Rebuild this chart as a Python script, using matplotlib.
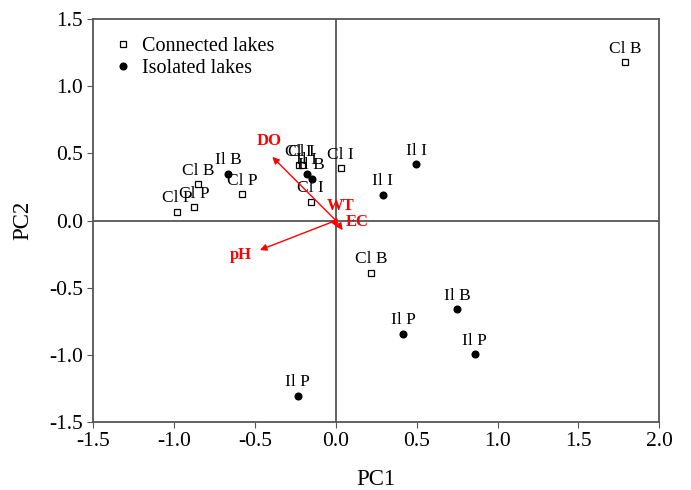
import matplotlib.pyplot as plt

plt.rcParams["font.family"] = ["Liberation Serif", "DejaVu Serif"]
plt.rcParams["axes.unicode_minus"] = False

# connected lakes (open squares)
con_x = [1.79, 0.217, 0.03, -0.23, -0.21, -0.156, -0.58, -0.85, -0.876, -0.98]
con_y = [1.18, -0.39, 0.39, 0.41, 0.41, 0.14, 0.196, 0.27, 0.097, 0.064]
con_lab = ["Cl B", "Cl B", "Cl I", "Cl I", "Cl I", "Cl I", "Cl P", "Cl B", "Cl P", "Cl P"]

# isolated lakes (filled dots)
iso_x = [-0.665, -0.18, -0.15, 0.497, 0.29, 0.75, 0.417, 0.86, -0.236]
iso_y = [0.35, 0.35, 0.31, 0.42, 0.19, -0.66, -0.845, -0.995, -1.307]
iso_lab = ["Il B", "Il I", "Il B", "Il I", "Il I", "Il B", "Il P", "Il P", "Il P"]

# environmental vectors
env_names = ["DO", "pH", "EC", "WT"]
env_x = [-0.393, -0.47, 0.042, 0.012]
env_y = [0.474, -0.22, -0.072, 0.02]
env_lab_x = [-0.41, -0.59, 0.13, 0.03]
env_lab_y = [0.59, -0.26, -0.01, 0.11]

fig = plt.figure(figsize=(6.91, 4.90), dpi=100)
ax = fig.add_axes([0.135, 0.139, 0.819, 0.822])

gray = "#555555"
ax.axhline(0, color=gray, lw=1.3, zorder=1)
ax.axvline(0, color=gray, lw=1.3, zorder=1)

ax.plot(con_x, con_y, "s", mfc="white", mec="black", ms=5, mew=0.9,
        ls="none", label="Connected lakes", zorder=3)
ax.plot(iso_x, iso_y, "o", color="black", ms=4.8, ls="none",
        label="Isolated lakes", zorder=3)

for x, y, t in zip(con_x + iso_x, con_y + iso_y, con_lab + iso_lab):
    ax.annotate(t, (x, y), xytext=(0, 4), textcoords="offset points",
                ha="center", va="bottom", fontsize=12.5, zorder=4)

for name, x, y, lx, ly in zip(env_names, env_x, env_y, env_lab_x, env_lab_y):
    ax.annotate("", xy=(x, y), xytext=(0, 0),
                arrowprops=dict(arrowstyle="-|>", color="red", lw=1,
                                mutation_scale=10, shrinkA=0, shrinkB=0),
                zorder=5)
    ax.text(lx, ly, name, color="red", fontweight="bold", fontsize=12,
            ha="center", va="center", zorder=5)

ax.set_xlim(-1.5, 2.0)
ax.set_ylim(-1.5, 1.5)
ax.set_xticks([-1.5, -1.0, -0.5, 0.0, 0.5, 1.0, 1.5, 2.0])
ax.set_yticks([-1.5, -1.0, -0.5, 0.0, 0.5, 1.0, 1.5])
ax.set_xticklabels(["%.1f" % v for v in ax.get_xticks()])
ax.set_yticklabels(["%.1f" % v for v in ax.get_yticks()])
ax.tick_params(direction="out", length=4, color=gray, labelsize=15.5,
               top=False, right=False)
for s in ax.spines.values():
    s.set_color(gray)
    s.set_linewidth(1.3)

ax.set_xlabel("PC1", fontsize=16.5, labelpad=13)
ax.set_ylabel("PC2", fontsize=16.5, labelpad=11)

ax.legend(loc="upper left", frameon=False, fontsize=14.5, handletextpad=0.3,
          borderaxespad=0.5, handlelength=1.2, labelspacing=0.15)

fig.savefig("out.png", dpi=100)
